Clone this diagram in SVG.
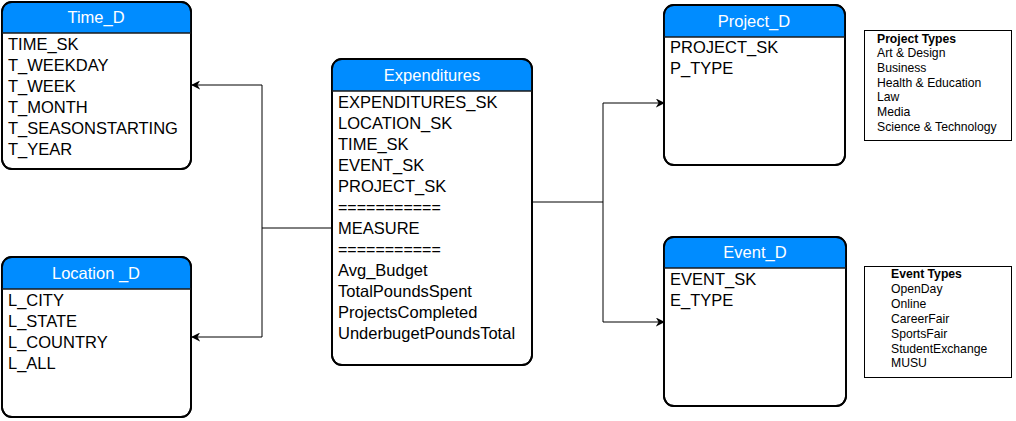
<svg xmlns="http://www.w3.org/2000/svg" width="1016" height="421" viewBox="0 0 1016 421">
<style>
.box{fill:#fff;stroke:#000;stroke-width:1.8}
.hdr{fill:#008cff}
.sep{stroke:#1a1a1a;stroke-width:1.5}
.title{font-family:"Liberation Sans",Arial,sans-serif;font-size:16.5px;fill:#fff;text-anchor:middle}
.fld{font-family:"Liberation Sans",Arial,sans-serif;font-size:16.5px;fill:#000}
.eq{font-size:16px}
.note{fill:#fff;stroke:#000;stroke-width:1}
.nt{font-family:"Liberation Sans",Arial,sans-serif;font-size:12.2px;fill:#000}
.nb{font-weight:bold}
.conn{fill:none;stroke:#000;stroke-width:1}
</style>
<defs>
<marker id="arr" viewBox="0 0 10 10" refX="9" refY="5" markerWidth="9" markerHeight="9" markerUnits="userSpaceOnUse" orient="auto">
<path d="M0,0 L10,5 L0,10 L3,5 Z" fill="#000"/>
</marker>
<clipPath id="cTime"><rect x="2" y="2" width="189" height="167" rx="10"/></clipPath>
<clipPath id="cLoc"><rect x="2" y="257" width="189" height="160" rx="10"/></clipPath>
<clipPath id="cExp"><rect x="332" y="59" width="200" height="306" rx="10"/></clipPath>
<clipPath id="cProj"><rect x="664" y="5" width="181" height="160" rx="10"/></clipPath>
<clipPath id="cEvt"><rect x="664" y="237" width="182" height="169" rx="10"/></clipPath>
</defs>

<g id="connectors">
<path class="conn" d="M332,228 H262 V85 H192" marker-end="url(#arr)"/>
<path class="conn" d="M262,228 V337 H192" marker-end="url(#arr)"/>
<path class="conn" d="M532,202 H603 V103 H664" marker-end="url(#arr)"/>
<path class="conn" d="M603,202 V322 H664" marker-end="url(#arr)"/>
</g>

<g id="time_d">
<rect class="box" x="2" y="2" width="189" height="167" rx="10"/>
<rect class="hdr" x="2" y="2" width="189" height="31" clip-path="url(#cTime)"/>
<rect x="2" y="2" width="189" height="167" rx="10" fill="none" stroke="#000" stroke-width="1.8"/>
<line class="sep" x1="2" y1="33" x2="191" y2="33"/>
<text class="title" x="96" y="23">Time_D</text>
<text class="fld" x="8" y="50">TIME_SK</text>
<text class="fld" x="8" y="71">T_WEEKDAY</text>
<text class="fld" x="8" y="92">T_WEEK</text>
<text class="fld" x="8" y="113">T_MONTH</text>
<text class="fld" x="8" y="134">T_SEASONSTARTING</text>
<text class="fld" x="8" y="155">T_YEAR</text>
</g>

<g id="location_d">
<rect class="box" x="2" y="257" width="189" height="160" rx="10"/>
<rect class="hdr" x="2" y="257" width="189" height="32" clip-path="url(#cLoc)"/>
<rect x="2" y="257" width="189" height="160" rx="10" fill="none" stroke="#000" stroke-width="1.8"/>
<line class="sep" x1="2" y1="289" x2="191" y2="289"/>
<text class="title" x="96" y="279">Location _D</text>
<text class="fld" x="8" y="306">L_CITY</text>
<text class="fld" x="8" y="327">L_STATE</text>
<text class="fld" x="8" y="348">L_COUNTRY</text>
<text class="fld" x="8" y="369">L_ALL</text>
</g>

<g id="expenditures">
<rect class="box" x="332" y="59" width="200" height="306" rx="10"/>
<rect class="hdr" x="332" y="59" width="200" height="32" clip-path="url(#cExp)"/>
<rect x="332" y="59" width="200" height="306" rx="10" fill="none" stroke="#000" stroke-width="1.8"/>
<line class="sep" x1="332" y1="91" x2="532" y2="91"/>
<text class="title" x="432" y="81">Expenditures</text>
<text class="fld" x="338" y="108">EXPENDITURES_SK</text>
<text class="fld" x="338" y="129">LOCATION_SK</text>
<text class="fld" x="338" y="150">TIME_SK</text>
<text class="fld" x="338" y="171">EVENT_SK</text>
<text class="fld" x="338" y="192">PROJECT_SK</text>
<text class="fld eq" x="338" y="213">===========</text>
<text class="fld" x="338" y="234">MEASURE</text>
<text class="fld eq" x="338" y="255">===========</text>
<text class="fld" x="338" y="276">Avg_Budget</text>
<text class="fld" x="338" y="297">TotalPoundsSpent</text>
<text class="fld" x="338" y="318">ProjectsCompleted</text>
<text class="fld" x="338" y="339">UnderbugetPoundsTotal</text>
</g>

<g id="project_d">
<rect class="box" x="664" y="5" width="181" height="160" rx="10"/>
<rect class="hdr" x="664" y="5" width="181" height="32" clip-path="url(#cProj)"/>
<rect x="664" y="5" width="181" height="160" rx="10" fill="none" stroke="#000" stroke-width="1.8"/>
<line class="sep" x1="664" y1="37" x2="845" y2="37"/>
<text class="title" x="754" y="27">Project_D</text>
<text class="fld" x="670" y="53">PROJECT_SK</text>
<text class="fld" x="670" y="74">P_TYPE</text>
</g>

<g id="event_d">
<rect class="box" x="664" y="237" width="182" height="169" rx="10"/>
<rect class="hdr" x="664" y="237" width="182" height="31" clip-path="url(#cEvt)"/>
<rect x="664" y="237" width="182" height="169" rx="10" fill="none" stroke="#000" stroke-width="1.8"/>
<line class="sep" x1="664" y1="268" x2="846" y2="268"/>
<text class="title" x="755" y="258">Event_D</text>
<text class="fld" x="670" y="285">EVENT_SK</text>
<text class="fld" x="670" y="306">E_TYPE</text>
</g>

<g id="project_types">
<rect class="note" x="864.5" y="30.5" width="147" height="110"/>
<text class="nt nb" x="877" y="43">Project Types</text>
<text class="nt" x="877" y="57">Art &amp; Design</text>
<text class="nt" x="877" y="72">Business</text>
<text class="nt" x="877" y="87">Health &amp; Education</text>
<text class="nt" x="877" y="101">Law</text>
<text class="nt" x="877" y="116">Media</text>
<text class="nt" x="877" y="131">Science &amp; Technology</text>
</g>

<g id="event_types">
<rect class="note" x="864.5" y="266.5" width="147" height="111"/>
<text class="nt nb" x="891" y="278">Event Types</text>
<text class="nt" x="891" y="293">OpenDay</text>
<text class="nt" x="891" y="308">Online</text>
<text class="nt" x="891" y="323">CareerFair</text>
<text class="nt" x="891" y="338">SportsFair</text>
<text class="nt" x="891" y="353">StudentExchange</text>
<text class="nt" x="891" y="367">MUSU</text>
</g>
</svg>
